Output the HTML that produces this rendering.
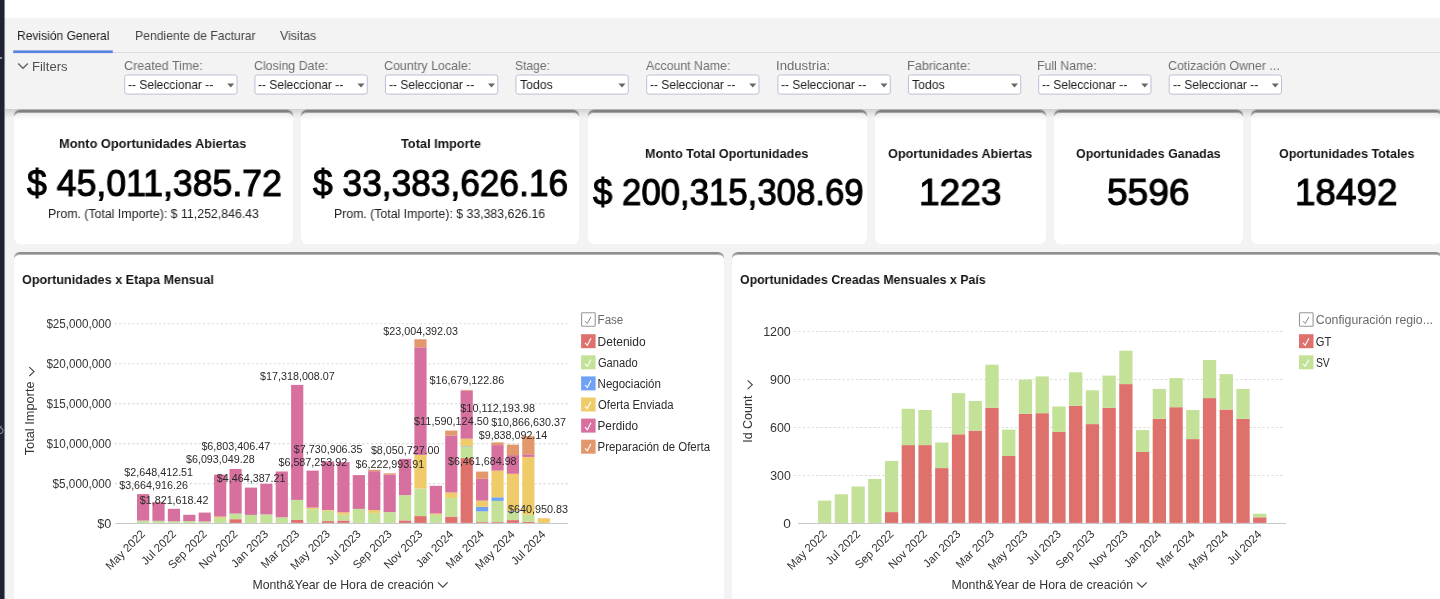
<!DOCTYPE html>
<html lang="es"><head><meta charset="utf-8"><title>Dashboard</title>
<style>
html,body{margin:0;padding:0}
body{width:1440px;height:599px;overflow:hidden;background:#f3f3f3;position:relative;font-family:"Liberation Sans",sans-serif}
.abs{position:absolute}
.t{will-change:transform;position:absolute;white-space:nowrap;transform-origin:0 0;display:block}
#topwhite{position:absolute;left:0;top:0;width:1440px;height:18px;background:#fff}
#leftbar{position:absolute;left:0;top:0;width:4.4px;height:599px;background:#1d2235;box-shadow:0.6px 0 0.6px rgba(29,34,53,.55)}
#leftbar i{position:absolute;left:0;width:2px;height:2px;background:#8d8f99}
#tabline{position:absolute;left:13px;top:52px;width:1427px;height:1px;background:#dcdcdc}
#shadow{position:absolute;left:5px;top:109px;width:1435px;height:9px;background:linear-gradient(#cfcfcf,#e2e2e2 45%,#f3f3f3)}
.card{position:absolute;background:#fff;box-sizing:border-box;border-radius:6px}
.kpi{top:110px;height:134px;border-top:2px solid #808080;box-shadow:0 -1px 0 0 #b4b4b4, inset 0 1px 0 0 #a2a2a2;background:linear-gradient(#e9e9e9,#fff 8px)}
.chart{top:252px;height:360px;border-top:2px solid #8f8f8f;box-shadow:inset 0 1px 0 0 #b4b4b4}
</style></head>
<body>
<div id="topwhite"></div>
<div id="tabline"></div>
<svg class="abs" style="left:0;top:0" width="1440" height="599" viewBox="0 0 1440 599"><rect x="13.2" y="50.4" width="99.6" height="2.7" fill="#5b84e1"/>
<rect x="124.70" y="75.0" width="112.3" height="19.1" rx="2.2" fill="#fff" stroke="#bfbfd6" stroke-width="1"/>
<path d="M227.25 83.4 h7 l-3.5 4 Z" fill="#666"/>
<rect x="254.95" y="75.0" width="112.3" height="19.1" rx="2.2" fill="#fff" stroke="#bfbfd6" stroke-width="1"/>
<path d="M357.50 83.4 h7 l-3.5 4 Z" fill="#666"/>
<rect x="385.45" y="75.0" width="112.3" height="19.1" rx="2.2" fill="#fff" stroke="#bfbfd6" stroke-width="1"/>
<path d="M488.00 83.4 h7 l-3.5 4 Z" fill="#666"/>
<rect x="515.95" y="75.0" width="112.3" height="19.1" rx="2.2" fill="#fff" stroke="#bfbfd6" stroke-width="1"/>
<path d="M618.50 83.4 h7 l-3.5 4 Z" fill="#666"/>
<rect x="646.70" y="75.0" width="112.3" height="19.1" rx="2.2" fill="#fff" stroke="#bfbfd6" stroke-width="1"/>
<path d="M749.25 83.4 h7 l-3.5 4 Z" fill="#666"/>
<rect x="777.95" y="75.0" width="112.3" height="19.1" rx="2.2" fill="#fff" stroke="#bfbfd6" stroke-width="1"/>
<path d="M880.50 83.4 h7 l-3.5 4 Z" fill="#666"/>
<rect x="908.45" y="75.0" width="112.3" height="19.1" rx="2.2" fill="#fff" stroke="#bfbfd6" stroke-width="1"/>
<path d="M1011.00 83.4 h7 l-3.5 4 Z" fill="#666"/>
<rect x="1038.70" y="75.0" width="112.3" height="19.1" rx="2.2" fill="#fff" stroke="#bfbfd6" stroke-width="1"/>
<path d="M1141.25 83.4 h7 l-3.5 4 Z" fill="#666"/>
<rect x="1169.20" y="75.0" width="112.3" height="19.1" rx="2.2" fill="#fff" stroke="#bfbfd6" stroke-width="1"/>
<path d="M1271.75 83.4 h7 l-3.5 4 Z" fill="#666"/></svg>
<span class="t" style="left:16.64px;top:28.90px;font-size:13px;line-height:13px;color:#222;transform:scaleX(0.9272);">Revisión General</span>
<span class="t" style="left:134.52px;top:28.90px;font-size:13px;line-height:13px;color:#444;transform:scaleX(0.9380);">Pendiente de Facturar</span>
<span class="t" style="left:279.97px;top:28.90px;font-size:13px;line-height:13px;color:#444;transform:scaleX(0.9529);">Visitas</span>
<svg class="abs" style="left:17px;top:62px" width="13" height="9" viewBox="0 0 13 9"><path d="M1.2 1.5 L6 6.3 L10.8 1.5" fill="none" stroke="#666" stroke-width="1.45"/></svg>
<span class="t" style="left:31.96px;top:60.20px;font-size:13px;line-height:13px;color:#505050;transform:scaleX(1.0030);">Filters</span>
<span class="t" style="left:123.62px;top:58.70px;font-size:13px;line-height:13px;color:#6e6e6e;transform:scaleX(0.9647);">Created Time:</span>
<span class="t" style="left:128.24px;top:77.90px;font-size:13px;line-height:13px;color:#1c1c1c;transform:scaleX(0.9217);">-- Seleccionar --</span>
<span class="t" style="left:253.88px;top:58.70px;font-size:13px;line-height:13px;color:#6e6e6e;transform:scaleX(0.9513);">Closing Date:</span>
<span class="t" style="left:258.49px;top:77.90px;font-size:13px;line-height:13px;color:#1c1c1c;transform:scaleX(0.9217);">-- Seleccionar --</span>
<span class="t" style="left:384.38px;top:58.70px;font-size:13px;line-height:13px;color:#6e6e6e;transform:scaleX(0.9580);">Country Locale:</span>
<span class="t" style="left:388.99px;top:77.90px;font-size:13px;line-height:13px;color:#1c1c1c;transform:scaleX(0.9217);">-- Seleccionar --</span>
<span class="t" style="left:514.96px;top:58.70px;font-size:13px;line-height:13px;color:#6e6e6e;transform:scaleX(0.9284);">Stage:</span>
<span class="t" style="left:519.86px;top:77.90px;font-size:13px;line-height:13px;color:#1c1c1c;transform:scaleX(0.9422);">Todos</span>
<span class="t" style="left:646.25px;top:58.70px;font-size:13px;line-height:13px;color:#6e6e6e;transform:scaleX(0.9491);">Account Name:</span>
<span class="t" style="left:650.24px;top:77.90px;font-size:13px;line-height:13px;color:#1c1c1c;transform:scaleX(0.9217);">-- Seleccionar --</span>
<span class="t" style="left:776.32px;top:58.70px;font-size:13px;line-height:13px;color:#6e6e6e;transform:scaleX(1.0123);">Industria:</span>
<span class="t" style="left:781.49px;top:77.90px;font-size:13px;line-height:13px;color:#1c1c1c;transform:scaleX(0.9217);">-- Seleccionar --</span>
<span class="t" style="left:906.99px;top:58.70px;font-size:13px;line-height:13px;color:#6e6e6e;transform:scaleX(0.9750);">Fabricante:</span>
<span class="t" style="left:912.36px;top:77.90px;font-size:13px;line-height:13px;color:#1c1c1c;transform:scaleX(0.9422);">Todos</span>
<span class="t" style="left:1037.26px;top:58.70px;font-size:13px;line-height:13px;color:#6e6e6e;transform:scaleX(0.9481);">Full Name:</span>
<span class="t" style="left:1042.24px;top:77.90px;font-size:13px;line-height:13px;color:#1c1c1c;transform:scaleX(0.9217);">-- Seleccionar --</span>
<span class="t" style="left:1168.13px;top:58.70px;font-size:13px;line-height:13px;color:#6e6e6e;transform:scaleX(0.9548);">Cotización Owner ...</span>
<span class="t" style="left:1172.74px;top:77.90px;font-size:13px;line-height:13px;color:#1c1c1c;transform:scaleX(0.9217);">-- Seleccionar --</span>
<div id="shadow"></div>
<div class="card kpi" style="left:14px;width:278.5px"></div>
<div class="card kpi" style="left:300.5px;width:278.75px"></div>
<div class="card kpi" style="left:587.5px;width:279.25px"></div>
<div class="card kpi" style="left:875px;width:171px"></div>
<div class="card kpi" style="left:1054.25px;width:188.75px"></div>
<div class="card kpi" style="left:1251.25px;width:190.75px"></div>
<span class="t" style="left:59.47px;top:137.10px;font-size:13.7px;line-height:13.7px;color:#151515;font-weight:bold;transform:scaleX(0.9351);">Monto Oportunidades Abiertas</span>
<span class="t" style="left:26.74px;top:164.56px;font-size:37.5px;line-height:37.5px;color:#000;transform:scaleX(0.9498);-webkit-text-stroke:1.1px #000;">$ 45,011,385.72</span>
<span class="t" style="left:47.61px;top:208.22px;font-size:12.5px;line-height:12.5px;color:#222;transform:scaleX(0.9867);">Prom. (Total Importe): $ 11,252,846.43</span>
<span class="t" style="left:400.57px;top:137.10px;font-size:13.7px;line-height:13.7px;color:#151515;font-weight:bold;transform:scaleX(0.9337);">Total Importe</span>
<span class="t" style="left:313.35px;top:164.56px;font-size:37.5px;line-height:37.5px;color:#000;transform:scaleX(0.9410);-webkit-text-stroke:1.1px #000;">$ 33,383,626.16</span>
<span class="t" style="left:334.42px;top:208.22px;font-size:12.5px;line-height:12.5px;color:#222;transform:scaleX(0.9833);">Prom. (Total Importe): $ 33,383,626.16</span>
<span class="t" style="left:645.08px;top:146.50px;font-size:13.7px;line-height:13.7px;color:#151515;font-weight:bold;transform:scaleX(0.9194);">Monto Total Oportunidades</span>
<span class="t" style="left:592.55px;top:173.76px;font-size:37.5px;line-height:37.5px;color:#000;transform:scaleX(0.9270);-webkit-text-stroke:1.1px #000;">$ 200,315,308.69</span>
<span class="t" style="left:888.49px;top:146.80px;font-size:13.7px;line-height:13.7px;color:#151515;font-weight:bold;transform:scaleX(0.9277);">Oportunidades Abiertas</span>
<span class="t" style="left:919.22px;top:173.76px;font-size:37.5px;line-height:37.5px;color:#000;transform:scaleX(0.9894);-webkit-text-stroke:1.1px #000;">1223</span>
<span class="t" style="left:1076.10px;top:146.80px;font-size:13.7px;line-height:13.7px;color:#151515;font-weight:bold;transform:scaleX(0.9100);">Oportunidades Ganadas</span>
<span class="t" style="left:1107.32px;top:173.76px;font-size:37.5px;line-height:37.5px;color:#000;transform:scaleX(0.9894);-webkit-text-stroke:1.1px #000;">5596</span>
<span class="t" style="left:1278.50px;top:146.80px;font-size:13.7px;line-height:13.7px;color:#151515;font-weight:bold;transform:scaleX(0.9143);">Oportunidades Totales</span>
<span class="t" style="left:1295.34px;top:173.76px;font-size:37.5px;line-height:37.5px;color:#000;transform:scaleX(0.9824);-webkit-text-stroke:1.1px #000;">18492</span>
<div class="card chart" style="left:14px;width:710px"></div>
<div class="card chart" style="left:732px;width:710px"></div>
<span class="t" style="left:22.00px;top:272.90px;font-size:13.7px;line-height:13.7px;color:#151515;font-weight:bold;transform:scaleX(0.9209);">Oportunidades x Etapa Mensual</span>
<span class="t" style="left:740.01px;top:272.90px;font-size:13.7px;line-height:13.7px;color:#151515;font-weight:bold;transform:scaleX(0.9020);">Oportunidades Creadas Mensuales x País</span>
<svg class="abs" style="left:0;top:0" width="1440" height="599" viewBox="0 0 1440 599" font-family="Liberation Sans, sans-serif"><text x="97.27" y="527.50" font-size="12" textLength="14.03" lengthAdjust="spacingAndGlyphs" fill="#333">$0</text>
<line x1="114.7" x2="568" y1="483.59" y2="483.59" stroke="#dbdbdb" stroke-width="1.1" stroke-dasharray="2.2 2.22"/>
<text x="52.58" y="487.54" font-size="12" textLength="58.66" lengthAdjust="spacingAndGlyphs" fill="#333">$5,000,000</text>
<line x1="114.7" x2="568" y1="443.63" y2="443.63" stroke="#dbdbdb" stroke-width="1.1" stroke-dasharray="2.2 2.22"/>
<text x="46.38" y="447.58" font-size="12" textLength="64.87" lengthAdjust="spacingAndGlyphs" fill="#333">$10,000,000</text>
<line x1="114.7" x2="568" y1="403.67" y2="403.67" stroke="#dbdbdb" stroke-width="1.1" stroke-dasharray="2.2 2.22"/>
<text x="46.38" y="407.62" font-size="12" textLength="64.87" lengthAdjust="spacingAndGlyphs" fill="#333">$15,000,000</text>
<line x1="114.7" x2="568" y1="363.71" y2="363.71" stroke="#dbdbdb" stroke-width="1.1" stroke-dasharray="2.2 2.22"/>
<text x="46.38" y="367.66" font-size="12" textLength="64.87" lengthAdjust="spacingAndGlyphs" fill="#333">$20,000,000</text>
<line x1="114.7" x2="568" y1="323.75" y2="323.75" stroke="#dbdbdb" stroke-width="1.1" stroke-dasharray="2.2 2.22"/>
<text x="46.38" y="327.70" font-size="12" textLength="64.87" lengthAdjust="spacingAndGlyphs" fill="#333">$25,000,000</text>
<rect x="115.4" y="523.00" width="452.6" height="1" fill="#c8c8c8"/>
<rect x="137.00" y="520.60" width="12.2" height="2.30" fill="#c3e298"/>
<rect x="137.00" y="494.10" width="12.2" height="26.50" fill="#d8709f"/>
<rect x="152.41" y="520.80" width="12.2" height="2.10" fill="#c3e298"/>
<rect x="152.41" y="502.20" width="12.2" height="18.60" fill="#d8709f"/>
<rect x="167.82" y="521.30" width="12.2" height="1.60" fill="#c3e298"/>
<rect x="167.82" y="508.80" width="12.2" height="12.50" fill="#d8709f"/>
<rect x="183.23" y="521.00" width="12.2" height="1.90" fill="#c3e298"/>
<rect x="183.23" y="514.80" width="12.2" height="6.20" fill="#d8709f"/>
<rect x="198.64" y="521.50" width="12.2" height="1.40" fill="#c3e298"/>
<rect x="198.64" y="512.60" width="12.2" height="8.90" fill="#d8709f"/>
<rect x="214.05" y="517.90" width="12.2" height="5.00" fill="#c3e298"/>
<rect x="214.05" y="516.60" width="12.2" height="1.30" fill="#efcb69"/>
<rect x="214.05" y="474.60" width="12.2" height="42.00" fill="#d8709f"/>
<rect x="229.46" y="519.20" width="12.2" height="3.70" fill="#df716d"/>
<rect x="229.46" y="513.60" width="12.2" height="5.60" fill="#c3e298"/>
<rect x="229.46" y="469.00" width="12.2" height="44.60" fill="#d8709f"/>
<rect x="244.87" y="514.90" width="12.2" height="8.00" fill="#c3e298"/>
<rect x="244.87" y="487.60" width="12.2" height="27.30" fill="#d8709f"/>
<rect x="260.28" y="514.40" width="12.2" height="8.50" fill="#c3e298"/>
<rect x="260.28" y="483.80" width="12.2" height="30.60" fill="#d8709f"/>
<rect x="275.69" y="517.30" width="12.2" height="5.60" fill="#c3e298"/>
<rect x="275.69" y="471.50" width="12.2" height="45.80" fill="#d8709f"/>
<rect x="291.10" y="519.90" width="12.2" height="3.00" fill="#df716d"/>
<rect x="291.10" y="499.90" width="12.2" height="20.00" fill="#c3e298"/>
<rect x="291.10" y="384.90" width="12.2" height="115.00" fill="#d8709f"/>
<rect x="306.51" y="509.10" width="12.2" height="13.80" fill="#c3e298"/>
<rect x="306.51" y="507.60" width="12.2" height="1.50" fill="#efcb69"/>
<rect x="306.51" y="470.60" width="12.2" height="37.00" fill="#d8709f"/>
<rect x="321.92" y="521.10" width="12.2" height="1.80" fill="#df716d"/>
<rect x="321.92" y="510.70" width="12.2" height="10.40" fill="#c3e298"/>
<rect x="321.92" y="510.00" width="12.2" height="0.70" fill="#efcb69"/>
<rect x="321.92" y="461.50" width="12.2" height="48.50" fill="#d8709f"/>
<rect x="337.33" y="520.50" width="12.2" height="2.40" fill="#df716d"/>
<rect x="337.33" y="514.70" width="12.2" height="5.80" fill="#c3e298"/>
<rect x="337.33" y="512.30" width="12.2" height="2.40" fill="#efcb69"/>
<rect x="337.33" y="462.10" width="12.2" height="50.20" fill="#d8709f"/>
<rect x="352.74" y="508.90" width="12.2" height="14.00" fill="#c3e298"/>
<rect x="352.74" y="475.10" width="12.2" height="33.80" fill="#d8709f"/>
<rect x="368.15" y="512.90" width="12.2" height="10.00" fill="#c3e298"/>
<rect x="368.15" y="510.10" width="12.2" height="2.80" fill="#efcb69"/>
<rect x="368.15" y="471.20" width="12.2" height="38.90" fill="#d8709f"/>
<rect x="368.15" y="469.90" width="12.2" height="1.30" fill="#e3976c"/>
<rect x="383.56" y="512.10" width="12.2" height="10.80" fill="#c3e298"/>
<rect x="383.56" y="474.50" width="12.2" height="37.60" fill="#d8709f"/>
<rect x="383.56" y="473.30" width="12.2" height="1.20" fill="#e3976c"/>
<rect x="398.97" y="520.40" width="12.2" height="2.50" fill="#df716d"/>
<rect x="398.97" y="495.10" width="12.2" height="25.30" fill="#c3e298"/>
<rect x="398.97" y="458.90" width="12.2" height="36.20" fill="#d8709f"/>
<rect x="414.38" y="516.10" width="12.2" height="6.80" fill="#df716d"/>
<rect x="414.38" y="488.50" width="12.2" height="27.60" fill="#c3e298"/>
<rect x="414.38" y="454.90" width="12.2" height="33.60" fill="#efcb69"/>
<rect x="414.38" y="347.30" width="12.2" height="107.60" fill="#d8709f"/>
<rect x="414.38" y="339.30" width="12.2" height="8.00" fill="#e3976c"/>
<rect x="429.79" y="514.80" width="12.2" height="8.10" fill="#c3e298"/>
<rect x="429.79" y="513.60" width="12.2" height="1.20" fill="#efcb69"/>
<rect x="429.79" y="485.80" width="12.2" height="27.80" fill="#d8709f"/>
<rect x="445.20" y="516.60" width="12.2" height="6.30" fill="#df716d"/>
<rect x="445.20" y="497.90" width="12.2" height="18.70" fill="#c3e298"/>
<rect x="445.20" y="492.50" width="12.2" height="5.40" fill="#efcb69"/>
<rect x="445.20" y="435.50" width="12.2" height="57.00" fill="#d8709f"/>
<rect x="445.20" y="430.60" width="12.2" height="4.90" fill="#e3976c"/>
<rect x="460.61" y="458.10" width="12.2" height="64.80" fill="#df716d"/>
<rect x="460.61" y="447.10" width="12.2" height="11.00" fill="#c3e298"/>
<rect x="460.61" y="446.40" width="12.2" height="0.70" fill="#6fa2f4"/>
<rect x="460.61" y="438.70" width="12.2" height="7.70" fill="#efcb69"/>
<rect x="460.61" y="390.60" width="12.2" height="48.10" fill="#d8709f"/>
<rect x="460.61" y="389.90" width="12.2" height="0.70" fill="#e3976c"/>
<rect x="476.02" y="522.10" width="12.2" height="0.80" fill="#df716d"/>
<rect x="476.02" y="511.40" width="12.2" height="10.70" fill="#c3e298"/>
<rect x="476.02" y="506.90" width="12.2" height="4.50" fill="#6fa2f4"/>
<rect x="476.02" y="500.60" width="12.2" height="6.30" fill="#efcb69"/>
<rect x="476.02" y="478.80" width="12.2" height="21.80" fill="#d8709f"/>
<rect x="476.02" y="471.60" width="12.2" height="7.20" fill="#e3976c"/>
<rect x="491.43" y="522.10" width="12.2" height="0.80" fill="#df716d"/>
<rect x="491.43" y="500.90" width="12.2" height="21.20" fill="#c3e298"/>
<rect x="491.43" y="497.30" width="12.2" height="3.60" fill="#6fa2f4"/>
<rect x="491.43" y="470.60" width="12.2" height="26.70" fill="#efcb69"/>
<rect x="491.43" y="445.10" width="12.2" height="25.50" fill="#d8709f"/>
<rect x="491.43" y="442.40" width="12.2" height="2.70" fill="#e3976c"/>
<rect x="506.84" y="520.10" width="12.2" height="2.80" fill="#df716d"/>
<rect x="506.84" y="511.60" width="12.2" height="8.50" fill="#c3e298"/>
<rect x="506.84" y="511.10" width="12.2" height="0.50" fill="#6fa2f4"/>
<rect x="506.84" y="473.80" width="12.2" height="37.30" fill="#efcb69"/>
<rect x="506.84" y="455.10" width="12.2" height="18.70" fill="#d8709f"/>
<rect x="506.84" y="444.60" width="12.2" height="10.50" fill="#e3976c"/>
<rect x="522.25" y="521.90" width="12.2" height="1.00" fill="#df716d"/>
<rect x="522.25" y="514.80" width="12.2" height="7.10" fill="#c3e298"/>
<rect x="522.25" y="456.90" width="12.2" height="57.90" fill="#efcb69"/>
<rect x="522.25" y="454.30" width="12.2" height="2.60" fill="#d8709f"/>
<rect x="522.25" y="436.10" width="12.2" height="18.20" fill="#e3976c"/>
<rect x="537.66" y="518.20" width="12.2" height="4.70" fill="#efcb69"/>
<text x="119.19" y="489.00" font-size="10.8" textLength="68.67" lengthAdjust="spacingAndGlyphs" fill="#2a2a2a">$3,664,916.26</text>
<text x="124.35" y="475.80" font-size="10.8" textLength="68.72" lengthAdjust="spacingAndGlyphs" fill="#2a2a2a">$2,648,412.51</text>
<text x="139.76" y="503.60" font-size="10.8" textLength="68.72" lengthAdjust="spacingAndGlyphs" fill="#2a2a2a">$1,821,618.42</text>
<text x="185.99" y="463.00" font-size="10.8" textLength="68.64" lengthAdjust="spacingAndGlyphs" fill="#2a2a2a">$6,093,049.28</text>
<text x="201.40" y="450.00" font-size="10.8" textLength="68.72" lengthAdjust="spacingAndGlyphs" fill="#2a2a2a">$6,803,406.47</text>
<text x="216.81" y="482.30" font-size="10.8" textLength="68.72" lengthAdjust="spacingAndGlyphs" fill="#2a2a2a">$4,464,387.21</text>
<text x="259.99" y="380.10" font-size="10.8" textLength="74.83" lengthAdjust="spacingAndGlyphs" fill="#2a2a2a">$17,318,008.07</text>
<text x="278.45" y="465.60" font-size="10.8" textLength="68.72" lengthAdjust="spacingAndGlyphs" fill="#2a2a2a">$6,587,253.92</text>
<text x="293.86" y="452.60" font-size="10.8" textLength="68.64" lengthAdjust="spacingAndGlyphs" fill="#2a2a2a">$7,730,906.35</text>
<text x="355.50" y="468.10" font-size="10.8" textLength="68.72" lengthAdjust="spacingAndGlyphs" fill="#2a2a2a">$6,222,993.91</text>
<text x="370.91" y="453.60" font-size="10.8" textLength="68.61" lengthAdjust="spacingAndGlyphs" fill="#2a2a2a">$8,050,727.00</text>
<text x="383.27" y="334.50" font-size="10.8" textLength="74.78" lengthAdjust="spacingAndGlyphs" fill="#2a2a2a">$23,004,392.03</text>
<text x="414.09" y="425.10" font-size="10.8" textLength="74.74" lengthAdjust="spacingAndGlyphs" fill="#2a2a2a">$11,590,124.50</text>
<text x="429.50" y="384.20" font-size="10.8" textLength="74.78" lengthAdjust="spacingAndGlyphs" fill="#2a2a2a">$16,679,122.86</text>
<text x="447.96" y="465.10" font-size="10.8" textLength="68.64" lengthAdjust="spacingAndGlyphs" fill="#2a2a2a">$6,461,684.98</text>
<text x="460.32" y="412.30" font-size="10.8" textLength="74.77" lengthAdjust="spacingAndGlyphs" fill="#2a2a2a">$10,112,193.98</text>
<text x="478.78" y="439.10" font-size="10.8" textLength="68.50" lengthAdjust="spacingAndGlyphs" fill="#2a2a2a">$9,838,092.14</text>
<text x="491.14" y="426.30" font-size="10.8" textLength="74.83" lengthAdjust="spacingAndGlyphs" fill="#2a2a2a">$10,866,630.37</text>
<text x="507.94" y="512.80" font-size="10.8" textLength="60.18" lengthAdjust="spacingAndGlyphs" fill="#2a2a2a">$640,950.83</text>
<text x="95.56" y="535.10" font-size="11.5" transform="rotate(-45 145.50 535.10)" fill="#333">May 2022</text>
<text x="133.40" y="535.10" font-size="11.5" transform="rotate(-45 176.32 535.10)" fill="#333">Jul 2022</text>
<text x="158.47" y="535.10" font-size="11.5" transform="rotate(-45 207.14 535.10)" fill="#333">Sep 2022</text>
<text x="189.29" y="535.10" font-size="11.5" transform="rotate(-45 237.96 535.10)" fill="#333">Nov 2022</text>
<text x="221.97" y="535.10" font-size="11.5" transform="rotate(-45 268.78 535.10)" fill="#333">Jan 2023</text>
<text x="251.53" y="535.10" font-size="11.5" transform="rotate(-45 299.60 535.10)" fill="#333">Mar 2023</text>
<text x="280.42" y="535.10" font-size="11.5" transform="rotate(-45 330.42 535.10)" fill="#333">May 2023</text>
<text x="318.26" y="535.10" font-size="11.5" transform="rotate(-45 361.24 535.10)" fill="#333">Jul 2023</text>
<text x="343.33" y="535.10" font-size="11.5" transform="rotate(-45 392.06 535.10)" fill="#333">Sep 2023</text>
<text x="374.15" y="535.10" font-size="11.5" transform="rotate(-45 422.88 535.10)" fill="#333">Nov 2023</text>
<text x="406.72" y="535.10" font-size="11.5" transform="rotate(-45 453.70 535.10)" fill="#333">Jan 2024</text>
<text x="436.28" y="535.10" font-size="11.5" transform="rotate(-45 484.52 535.10)" fill="#333">Mar 2024</text>
<text x="465.17" y="535.10" font-size="11.5" transform="rotate(-45 515.34 535.10)" fill="#333">May 2024</text>
<text x="503.01" y="535.10" font-size="11.5" transform="rotate(-45 546.16 535.10)" fill="#333">Jul 2024</text>
<text x="252.42" y="588.60" font-size="13" textLength="181.56" lengthAdjust="spacingAndGlyphs" fill="#333">Month&amp;Year de Hora de creación</text>
<path d="M437.9 582.3 L442.8 587.2 L447.7 582.3" fill="none" stroke="#444" stroke-width="1.2"/>
<text x="33.74" y="455.00" font-size="13" textLength="73.80" lengthAdjust="spacingAndGlyphs" transform="rotate(-90 34.00 455.00)" fill="#333">Total Importe</text>
<path d="M29.3 367.2 L34.0 371.6 L29.3 376.0" fill="none" stroke="#444" stroke-width="1.1"/>
<rect x="581.60" y="312.80" width="13.6" height="13.4" fill="#fff" stroke="#999" stroke-width="1.1" rx="0.8"/>
<path d="M585.00 321.10 l2.3 2.4 l3.7 -6.7" fill="none" stroke="#777" stroke-width="0.9"/>
<text x="597.57" y="324.00" font-size="12.5" textLength="25.73" lengthAdjust="spacingAndGlyphs" fill="#6a6a6a">Fase</text>
<rect x="581.10" y="334.20" width="14.5" height="14" fill="#df716d"/>
<path d="M585.00 342.80 l2.3 2.5 l3.7 -7" fill="none" stroke="#fff" stroke-width="1.1"/>
<text x="597.54" y="345.80" font-size="12.5" textLength="48.15" lengthAdjust="spacingAndGlyphs" fill="#2b2b2b">Detenido</text>
<rect x="581.10" y="355.30" width="14.5" height="14" fill="#c3e298"/>
<path d="M585.00 363.90 l2.3 2.5 l3.7 -7" fill="none" stroke="#fff" stroke-width="1.1"/>
<text x="597.94" y="366.90" font-size="12.5" textLength="39.72" lengthAdjust="spacingAndGlyphs" fill="#2b2b2b">Ganado</text>
<rect x="581.10" y="376.40" width="14.5" height="14" fill="#6fa2f4"/>
<path d="M585.00 385.00 l2.3 2.5 l3.7 -7" fill="none" stroke="#fff" stroke-width="1.1"/>
<text x="597.58" y="388.00" font-size="12.5" textLength="63.35" lengthAdjust="spacingAndGlyphs" fill="#2b2b2b">Negociación</text>
<rect x="581.10" y="397.50" width="14.5" height="14" fill="#efcb69"/>
<path d="M585.00 406.10 l2.3 2.5 l3.7 -7" fill="none" stroke="#fff" stroke-width="1.1"/>
<text x="597.99" y="409.10" font-size="12.5" textLength="75.49" lengthAdjust="spacingAndGlyphs" fill="#2b2b2b">Oferta Enviada</text>
<rect x="581.10" y="418.60" width="14.5" height="14" fill="#d8709f"/>
<path d="M585.00 427.20 l2.3 2.5 l3.7 -7" fill="none" stroke="#fff" stroke-width="1.1"/>
<text x="597.56" y="430.20" font-size="12.5" textLength="40.43" lengthAdjust="spacingAndGlyphs" fill="#2b2b2b">Perdido</text>
<rect x="581.10" y="439.70" width="14.5" height="14" fill="#e3976c"/>
<path d="M585.00 448.30 l2.3 2.5 l3.7 -7" fill="none" stroke="#fff" stroke-width="1.1"/>
<text x="597.59" y="451.30" font-size="12.5" textLength="112.51" lengthAdjust="spacingAndGlyphs" fill="#2b2b2b">Preparación de Oferta</text>
<text x="783.18" y="527.50" font-size="12" textLength="7.65" lengthAdjust="spacingAndGlyphs" fill="#333">0</text>
<line x1="794" x2="1285" y1="475.55" y2="475.55" stroke="#dbdbdb" stroke-width="1.1" stroke-dasharray="2.2 2.22"/>
<text x="770.24" y="479.50" font-size="12" textLength="20.54" lengthAdjust="spacingAndGlyphs" fill="#333">300</text>
<line x1="794" x2="1285" y1="427.55" y2="427.55" stroke="#dbdbdb" stroke-width="1.1" stroke-dasharray="2.2 2.22"/>
<text x="770.08" y="431.50" font-size="12" textLength="20.70" lengthAdjust="spacingAndGlyphs" fill="#333">600</text>
<line x1="794" x2="1285" y1="379.55" y2="379.55" stroke="#dbdbdb" stroke-width="1.1" stroke-dasharray="2.2 2.22"/>
<text x="770.14" y="383.50" font-size="12" textLength="20.63" lengthAdjust="spacingAndGlyphs" fill="#333">900</text>
<line x1="794" x2="1285" y1="331.55" y2="331.55" stroke="#dbdbdb" stroke-width="1.1" stroke-dasharray="2.2 2.22"/>
<text x="763.17" y="335.50" font-size="12" textLength="27.62" lengthAdjust="spacingAndGlyphs" fill="#333">1200</text>
<rect x="798" y="523.00" width="488" height="1" fill="#c8c8c8"/>
<rect x="818.00" y="500.60" width="13.3" height="22.30" fill="#c3e298"/>
<rect x="834.74" y="494.30" width="13.3" height="28.60" fill="#c3e298"/>
<rect x="851.47" y="486.50" width="13.3" height="36.40" fill="#c3e298"/>
<rect x="868.21" y="479.00" width="13.3" height="43.90" fill="#c3e298"/>
<rect x="884.94" y="512.10" width="13.3" height="10.80" fill="#df716d"/>
<rect x="884.94" y="461.00" width="13.3" height="51.10" fill="#c3e298"/>
<rect x="901.67" y="445.10" width="13.3" height="77.80" fill="#df716d"/>
<rect x="901.67" y="408.80" width="13.3" height="36.30" fill="#c3e298"/>
<rect x="918.41" y="445.10" width="13.3" height="77.80" fill="#df716d"/>
<rect x="918.41" y="410.00" width="13.3" height="35.10" fill="#c3e298"/>
<rect x="935.14" y="468.10" width="13.3" height="54.80" fill="#df716d"/>
<rect x="935.14" y="442.50" width="13.3" height="25.60" fill="#c3e298"/>
<rect x="951.88" y="434.30" width="13.3" height="88.60" fill="#df716d"/>
<rect x="951.88" y="393.10" width="13.3" height="41.20" fill="#c3e298"/>
<rect x="968.62" y="430.60" width="13.3" height="92.30" fill="#df716d"/>
<rect x="968.62" y="401.00" width="13.3" height="29.60" fill="#c3e298"/>
<rect x="985.35" y="407.80" width="13.3" height="115.10" fill="#df716d"/>
<rect x="985.35" y="364.70" width="13.3" height="43.10" fill="#c3e298"/>
<rect x="1002.09" y="456.00" width="13.3" height="66.90" fill="#df716d"/>
<rect x="1002.09" y="429.60" width="13.3" height="26.40" fill="#c3e298"/>
<rect x="1018.82" y="413.80" width="13.3" height="109.10" fill="#df716d"/>
<rect x="1018.82" y="379.60" width="13.3" height="34.20" fill="#c3e298"/>
<rect x="1035.56" y="413.20" width="13.3" height="109.70" fill="#df716d"/>
<rect x="1035.56" y="376.40" width="13.3" height="36.80" fill="#c3e298"/>
<rect x="1052.29" y="431.90" width="13.3" height="91.00" fill="#df716d"/>
<rect x="1052.29" y="406.50" width="13.3" height="25.40" fill="#c3e298"/>
<rect x="1069.03" y="405.80" width="13.3" height="117.10" fill="#df716d"/>
<rect x="1069.03" y="372.30" width="13.3" height="33.50" fill="#c3e298"/>
<rect x="1085.76" y="424.10" width="13.3" height="98.80" fill="#df716d"/>
<rect x="1085.76" y="390.30" width="13.3" height="33.80" fill="#c3e298"/>
<rect x="1102.49" y="407.80" width="13.3" height="115.10" fill="#df716d"/>
<rect x="1102.49" y="375.60" width="13.3" height="32.20" fill="#c3e298"/>
<rect x="1119.23" y="384.10" width="13.3" height="138.80" fill="#df716d"/>
<rect x="1119.23" y="350.70" width="13.3" height="33.40" fill="#c3e298"/>
<rect x="1135.96" y="451.90" width="13.3" height="71.00" fill="#df716d"/>
<rect x="1135.96" y="430.10" width="13.3" height="21.80" fill="#c3e298"/>
<rect x="1152.70" y="418.70" width="13.3" height="104.20" fill="#df716d"/>
<rect x="1152.70" y="388.90" width="13.3" height="29.80" fill="#c3e298"/>
<rect x="1169.43" y="407.20" width="13.3" height="115.70" fill="#df716d"/>
<rect x="1169.43" y="378.10" width="13.3" height="29.10" fill="#c3e298"/>
<rect x="1186.17" y="439.10" width="13.3" height="83.80" fill="#df716d"/>
<rect x="1186.17" y="410.00" width="13.3" height="29.10" fill="#c3e298"/>
<rect x="1202.90" y="398.10" width="13.3" height="124.80" fill="#df716d"/>
<rect x="1202.90" y="360.00" width="13.3" height="38.10" fill="#c3e298"/>
<rect x="1219.64" y="409.50" width="13.3" height="113.40" fill="#df716d"/>
<rect x="1219.64" y="374.10" width="13.3" height="35.40" fill="#c3e298"/>
<rect x="1236.38" y="418.80" width="13.3" height="104.10" fill="#df716d"/>
<rect x="1236.38" y="388.90" width="13.3" height="29.90" fill="#c3e298"/>
<rect x="1253.11" y="517.30" width="13.3" height="5.60" fill="#df716d"/>
<rect x="1253.11" y="513.70" width="13.3" height="3.60" fill="#c3e298"/>
<text x="777.11" y="535.10" font-size="11.5" transform="rotate(-45 827.05 535.10)" fill="#333">May 2022</text>
<text x="817.60" y="535.10" font-size="11.5" transform="rotate(-45 860.52 535.10)" fill="#333">Jul 2022</text>
<text x="845.32" y="535.10" font-size="11.5" transform="rotate(-45 893.99 535.10)" fill="#333">Sep 2022</text>
<text x="878.79" y="535.10" font-size="11.5" transform="rotate(-45 927.46 535.10)" fill="#333">Nov 2022</text>
<text x="914.12" y="535.10" font-size="11.5" transform="rotate(-45 960.93 535.10)" fill="#333">Jan 2023</text>
<text x="946.33" y="535.10" font-size="11.5" transform="rotate(-45 994.40 535.10)" fill="#333">Mar 2023</text>
<text x="977.87" y="535.10" font-size="11.5" transform="rotate(-45 1027.87 535.10)" fill="#333">May 2023</text>
<text x="1018.36" y="535.10" font-size="11.5" transform="rotate(-45 1061.34 535.10)" fill="#333">Jul 2023</text>
<text x="1046.08" y="535.10" font-size="11.5" transform="rotate(-45 1094.81 535.10)" fill="#333">Sep 2023</text>
<text x="1079.55" y="535.10" font-size="11.5" transform="rotate(-45 1128.28 535.10)" fill="#333">Nov 2023</text>
<text x="1114.77" y="535.10" font-size="11.5" transform="rotate(-45 1161.75 535.10)" fill="#333">Jan 2024</text>
<text x="1146.98" y="535.10" font-size="11.5" transform="rotate(-45 1195.22 535.10)" fill="#333">Mar 2024</text>
<text x="1178.52" y="535.10" font-size="11.5" transform="rotate(-45 1228.69 535.10)" fill="#333">May 2024</text>
<text x="1219.01" y="535.10" font-size="11.5" transform="rotate(-45 1262.16 535.10)" fill="#333">Jul 2024</text>
<text x="951.52" y="588.60" font-size="13" textLength="181.56" lengthAdjust="spacingAndGlyphs" fill="#333">Month&amp;Year de Hora de creación</text>
<path d="M1137.0 582.3 L1141.9 587.2 L1146.8 582.3" fill="none" stroke="#444" stroke-width="1.2"/>
<text x="751.08" y="441.70" font-size="13" textLength="47.19" lengthAdjust="spacingAndGlyphs" transform="rotate(-90 752.20 441.70)" fill="#333">Id Count</text>
<path d="M747.6 380.4 L752.3 384.8 L747.6 389.2" fill="none" stroke="#444" stroke-width="1.1"/>
<rect x="1299.50" y="312.80" width="13.6" height="13.4" fill="#fff" stroke="#999" stroke-width="1.1" rx="0.8"/>
<path d="M1302.90 321.10 l2.3 2.4 l3.7 -6.7" fill="none" stroke="#777" stroke-width="0.9"/>
<text x="1315.78" y="324.00" font-size="12.5" textLength="117.24" lengthAdjust="spacingAndGlyphs" fill="#6a6a6a">Configuración regio...</text>
<rect x="1299.00" y="334.20" width="14.5" height="14" fill="#df716d"/>
<path d="M1302.90 342.80 l2.3 2.5 l3.7 -7" fill="none" stroke="#fff" stroke-width="1.1"/>
<text x="1315.84" y="345.80" font-size="12.5" textLength="15.49" lengthAdjust="spacingAndGlyphs" fill="#2b2b2b">GT</text>
<rect x="1299.00" y="355.30" width="14.5" height="14" fill="#c3e298"/>
<path d="M1302.90 363.90 l2.3 2.5 l3.7 -7" fill="none" stroke="#fff" stroke-width="1.1"/>
<text x="1315.93" y="366.90" font-size="12.5" textLength="13.91" lengthAdjust="spacingAndGlyphs" fill="#2b2b2b">SV</text></svg>
<div id="leftbar"><i style="top:57px"></i><svg class="abs" style="left:0;top:422px" width="5" height="16" viewBox="0 0 5 16"><circle cx="0" cy="8.7" r="3.0" fill="none" stroke="#9a9cab" stroke-width="0.95"/><path d="M-0.5 5.2 L1.8 4.2" stroke="#9a9cab" stroke-width="0.9" fill="none"/></svg></div>
</body></html>
